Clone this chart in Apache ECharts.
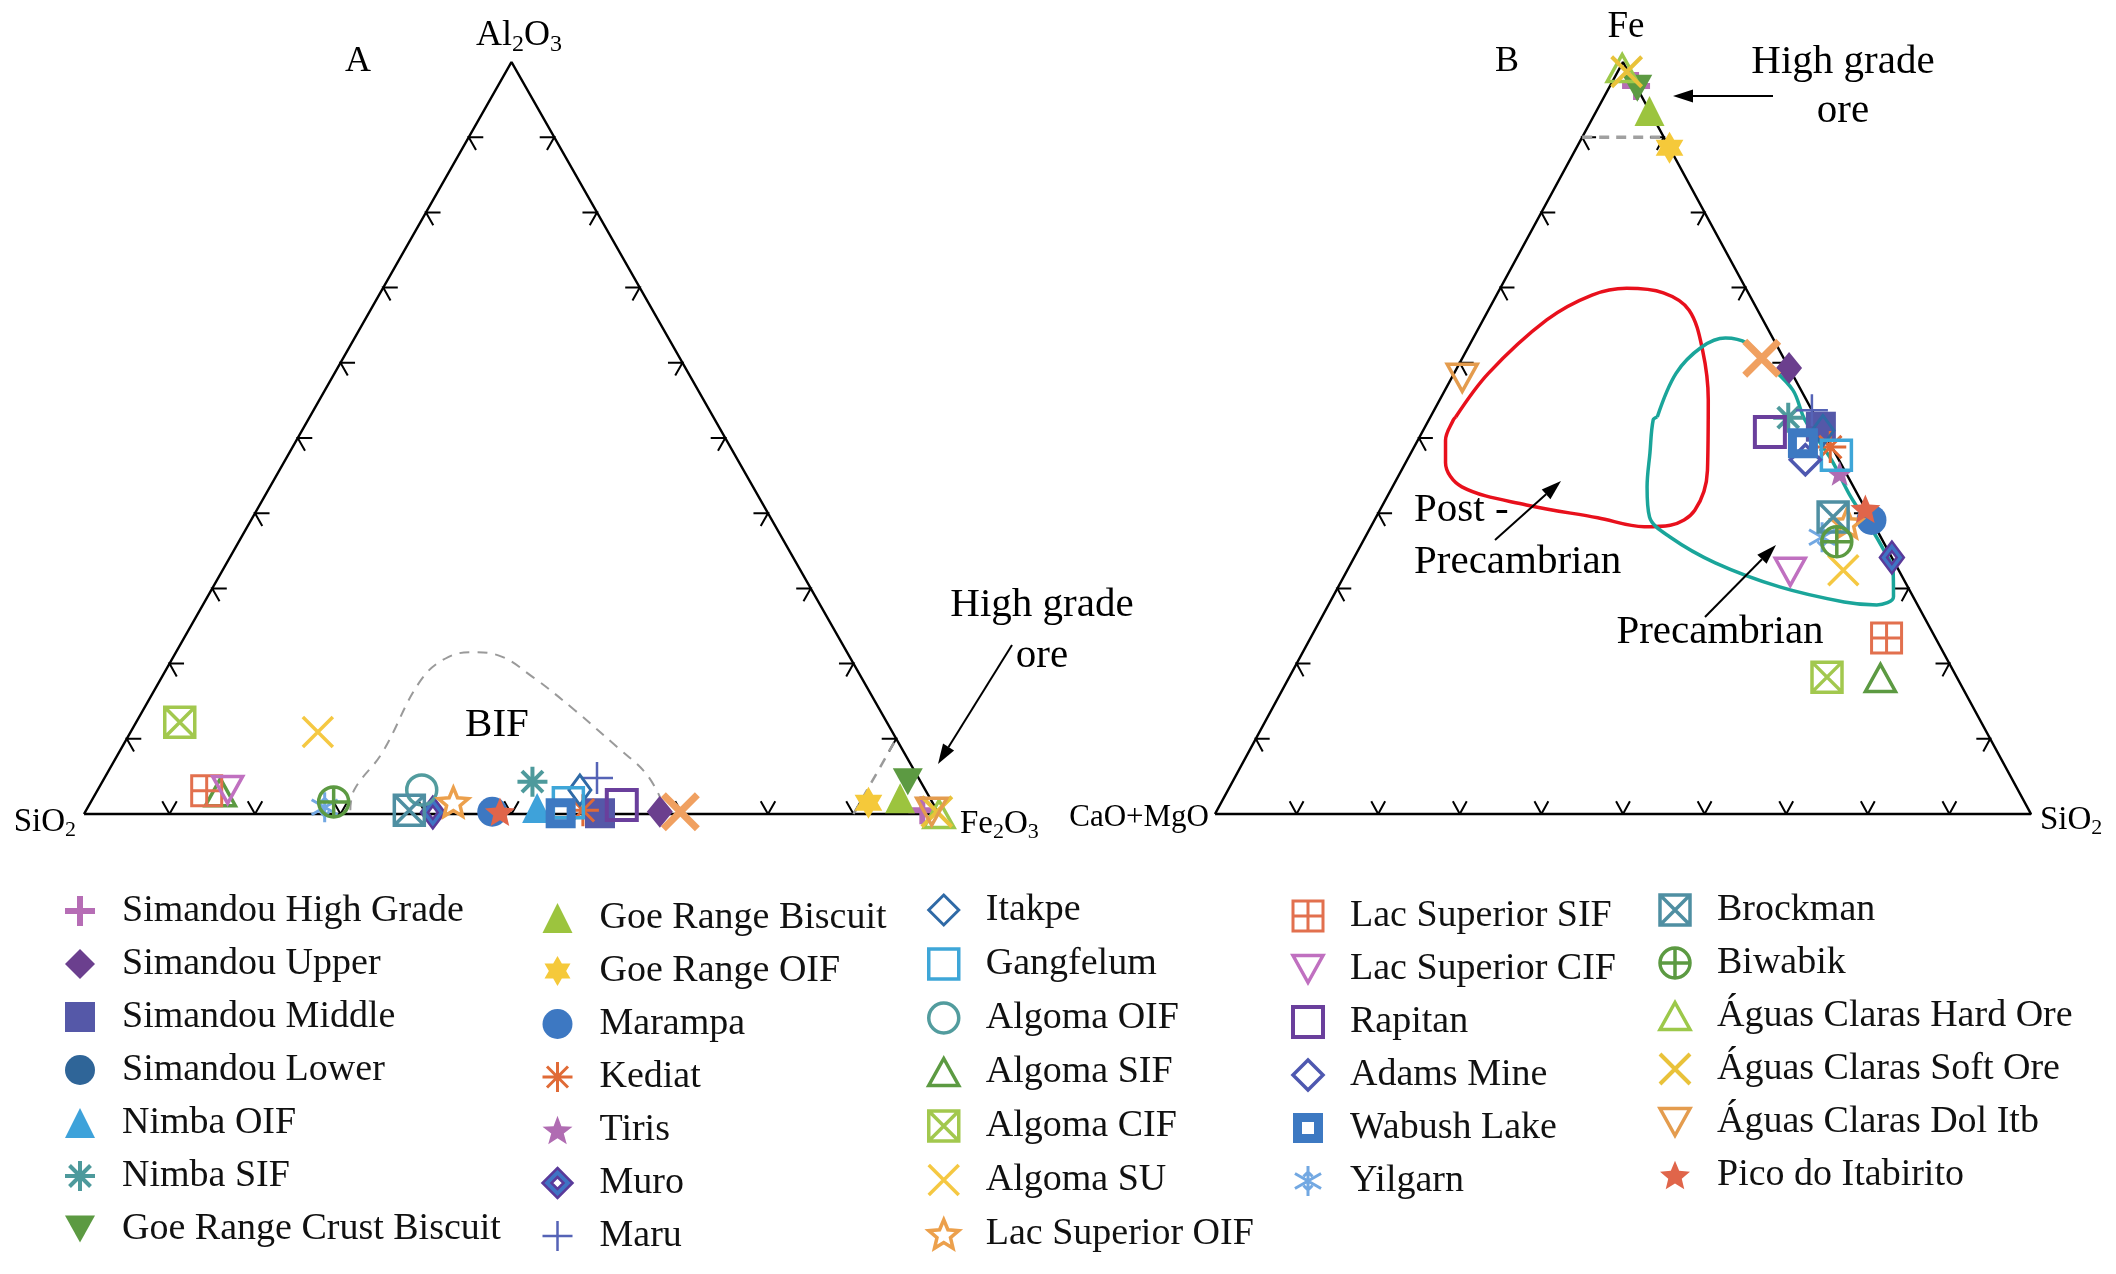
<!DOCTYPE html>
<html>
<head>
<meta charset="utf-8">
<title>Ternary plots</title>
<script src="https://cdn.jsdelivr.net/npm/echarts@6/dist/echarts.min.js"></script>
<style>
html, body { margin: 0; padding: 0; background: #fff; }
#chart { width: 2116px; height: 1274px; }
</style>
</head>
<body>
<div id="chart"></div>
<script>
// legend columns (sample names)
const legendCols = [
  ['Simandou High Grade', 'Simandou Upper', 'Simandou Middle', 'Simandou Lower', 'Nimba OIF', 'Nimba SIF', 'Goe Range Crust Biscuit'],
  ['Goe Range Biscuit', 'Goe Range OIF', 'Marampa', 'Kediat', 'Tiris', 'Muro', 'Maru'],
  ['Itakpe', 'Gangfelum', 'Algoma OIF', 'Algoma SIF', 'Algoma CIF', 'Algoma SU', 'Lac Superior OIF'],
  ['Lac Superior SIF', 'Lac Superior CIF', 'Rapitan', 'Adams Mine', 'Wabush Lake', 'Yilgarn'],
  ['Brockman', 'Biwabik', 'Águas Claras Hard Ore', 'Águas Claras Soft Ore', 'Águas Claras Dol Itb', 'Pico do Itabirito']
]
const OTHER = 'unlisted'

// panel A: [sample, SiO2, Al2O3, Fe2O3] in %
const pointsA = [
  ['Algoma CIF', 82.7, 12.2, 5.1],
  ['Algoma SU', 67.2, 10.9, 21.9],
  ['Lac Superior SIF', 84.1, 3.1, 12.8],
  ['Algoma SIF', 82.6, 2.9, 14.5],
  ['Lac Superior CIF', 81.6, 3.2, 15.2],
  ['Yilgarn', 71.4, 0.9, 27.7],
  ['Biwabik', 70.0, 1.6, 28.4],
  ['Algoma OIF', 58.9, 3.2, 37.9],
  ['Brockman', 61.7, 0.5, 37.8],
  ['Muro', 59.1, 0.2, 40.7],
  ['Lac Superior OIF', 56.0, 1.6, 42.4],
  ['Marampa', 52.1, 0.3, 47.6],
  ['Pico do Itabirito', 51.2, 0.3, 48.5],
  ['Nimba SIF', 45.4, 4.3, 50.3],
  ['Nimba OIF', 46.6, 0.8, 52.6],
  ['Wabush Lake', 44.2, 0.1, 55.7],
  ['Gangfelum', 42.6, 1.5, 55.9],
  ['Itakpe', 40.4, 3.2, 56.4],
  ['Maru', 37.6, 4.8, 57.6],
  ['Kediat', 41.4, 0.5, 58.1],
  ['Simandou Middle', 39.6, 0.1, 60.3],
  ['Rapitan', 36.5, 1.2, 62.3],
  ['Simandou Upper', 32.5, 0.3, 67.2],
  [OTHER, 30.1, 0.3, 69.6],
  ['Goe Range OIF', 7.5, 1.5, 91.0],
  ['Goe Range Biscuit', 3.5, 2.1, 94.4],
  ['Goe Range Crust Biscuit', 1.5, 4.3, 94.2],
  ['Simandou High Grade', 1.7, 0.5, 97.8],
  ['Águas Claras Dol Itb', 0.7, 0.3, 99.0],
  ['Águas Claras Soft Ore', 0.1, 0.3, 99.6],
  ['Águas Claras Hard Ore', 0.0, 0.0, 100.0]
]

// panel B: [sample, CaO+MgO, Fe, SiO2] in %
const pointsB = [
  ['Águas Claras Hard Ore', 0.5, 99.2, 0.3],
  ['Águas Claras Soft Ore', 0.2, 98.7, 1.1],
  ['Simandou High Grade', 0.0, 96.8, 3.2],
  ['Goe Range Crust Biscuit', 0.0, 96.5, 3.5],
  ['Goe Range Biscuit', 0.0, 93.5, 6.5],
  ['Goe Range OIF', 0.0, 88.6, 11.4],
  ['Águas Claras Dol Itb', 40.7, 58.0, 1.3],
  [OTHER, 2.7, 60.6, 36.7],
  ['Simandou Upper', 0.0, 59.3, 40.7],
  ['Rapitan', 6.6, 50.8, 42.6],
  ['Nimba SIF', 3.4, 52.7, 43.9],
  ['Maru', 0.0, 53.7, 46.3],
  ['Simandou Middle', 0.0, 51.5, 48.5],
  ['Wabush Lake', 3.3, 49.3, 47.4],
  ['Adams Mine', 4.1, 47.1, 48.8],
  ['Itakpe', 0.0, 51.0, 49.0],
  ['Kediat', 0.2, 48.8, 51.0],
  ['Gangfelum', 0.0, 47.7, 52.3],
  ['Tiris', 0.8, 45.3, 53.9],
  ['Brockman', 4.5, 39.5, 56.0],
  ['Lac Superior OIF', 3.2, 38.7, 58.1],
  ['Yilgarn', 7.2, 36.8, 56.0],
  ['Biwabik', 5.7, 36.2, 58.1],
  ['Pico do Itabirito', 0.0, 40.6, 59.4],
  ['Marampa', 0.0, 39.1, 60.9],
  ['Muro', 0.0, 34.1, 65.9],
  ['Lac Superior CIF', 13.4, 32.2, 54.4],
  ['Algoma SU', 6.8, 32.4, 60.8],
  ['Lac Superior SIF', 6.0, 23.4, 70.6],
  ['Algoma CIF', 15.9, 18.2, 65.9],
  ['Algoma SIF', 9.4, 18.1, 72.5]
]

// BIF field outline, panel A: [SiO2, Al2O3, Fe2O3]
const bifField = [
  [68.6, 0.5, 30.9], [66.8, 3.2, 30.0], [61.1, 8.1, 30.8], [51.7, 17.8, 30.5],
  [46.9, 20.9, 32.2], [43.6, 21.5, 34.9], [41.0, 21.1, 37.9], [38.4, 18.2, 43.4],
  [35.7, 13.8, 50.5], [33.2, 8.9, 57.9], [31.6, 5.5, 62.9], [31.5, 2.3, 66.2]
]
// high grade ore limit (Fe2O3 = 90 / Fe = 90)
const oreLimitA = [[10, 0, 90], [0, 10, 90]]
const oreLimitB = [[10, 90, 0], [0, 90, 10]]

// fields, panel B: [CaO+MgO, Fe, SiO2]
const postPrecambrianField = [
  [44.1, 52.8, 3.1], [37.2, 58.6, 4.2], [26.5, 65.7, 7.8], [19.3, 69.0, 11.7],
  [14.6, 69.9, 15.5], [10.4, 69.3, 20.3], [8.4, 67.0, 24.6], [9.4, 61.7, 28.9],
  [12.0, 55.1, 32.9], [16.8, 45.7, 37.5], [21.0, 40.4, 38.6], [25.0, 38.4, 36.6],
  [28.3, 38.2, 33.5], [33.4, 39.4, 27.2], [41.3, 41.1, 17.6], [48.0, 43.5, 8.5],
  [48.4, 46.7, 4.9], [46.9, 49.7, 3.4], [44.6, 52.4, 3.0], [44.1, 52.8, 3.1]
]
const precambrianField = [
  [19.4, 52.8, 27.8], [14.2, 58.6, 27.2], [9.3, 62.1, 28.6], [5.8, 63.3, 30.9],
  [3.5, 62.6, 33.9], [2.4, 60.0, 37.6], [1.0, 56.4, 42.6], [1.5, 52.4, 46.1],
  [0.9, 47.1, 52.0], [1.0, 42.2, 56.8], [0.6, 38.2, 61.2], [0.5, 35.1, 64.4],
  [0.7, 32.4, 66.9], [2.4, 28.9, 68.7], [5.0, 27.8, 67.2], [8.8, 28.2, 63.0],
  [15.7, 30.2, 54.1], [22.0, 33.4, 44.6], [25.8, 36.8, 37.4], [27.0, 39.5, 33.5],
  [25.3, 43.5, 31.2], [22.7, 48.0, 29.3], [20.1, 52.4, 27.5], [19.4, 52.8, 27.8]
]

const tickValues = [10, 20, 30, 40, 50, 60, 70, 80, 90]
const tickLen = 1.7

// ternary -> cartesian (x along base, y = top component)
const toA = ([si, al, fe]) => [fe + al / 2, al]
const toB = ([ca, fe, si]) => [si + fe / 2, fe]

const FONT = '"Liberation Serif", "Times New Roman", serif'

function starPath (ratio) {
  let d = ''
  for (let k = 0; k < 10; k++) {
    const r = k % 2 ? 10 * ratio : 10
    const a = -Math.PI / 2 + k * Math.PI / 5
    d += (k ? 'L' : 'M') + (10 + r * Math.cos(a)).toFixed(2) + ',' + (10 + r * Math.sin(a)).toFixed(2)
  }
  return 'path://' + d + 'Z'
}
const SYM = {
  plus: 'path://M10,0V20M0,10H20',
  cross: 'path://M0,0L20,20M20,0L0,20',
  aster8: 'path://M10,0V20M0,10H20M3,3L17,17M17,3L3,17',
  aster6: 'path://M10,0V20M1.3,5L18.7,15M18.7,5L1.3,15M10,4L13,7M10,4L7,7M10,16L13,13M10,16L7,13',
  box: 'path://M0,0H20V20H0Z',
  boxX: 'path://M0,0H20V20H0ZM0,0L20,20M20,0L0,20',
  boxGrid: 'path://M0,0H20V20H0ZM10,0V20M0,10H20',
  diamond: 'path://M10,0L20,10L10,20L0,10Z',
  triUp: 'path://M10,0L20,18H0Z',
  triDown: 'path://M0,0H20L10,18Z',
  circle: 'path://M0,10A10,10,0,1,1,20,10A10,10,0,1,1,0,10Z',
  circlePlus: 'path://M0,10A10,10,0,1,1,20,10A10,10,0,1,1,0,10ZM10,0V20M0,10H20',
  star6: 'path://M10,0L18.66,15L1.34,15ZM10,20L1.34,5L18.66,5Z',
  muro: 'path://M10,0L20,10L10,20L0,10ZM10,6L6,10L10,14L14,10Z',
  wabush: 'path://M0,0H20V20H0ZM6,6V14H14V6Z'
}

// marker styles: fill / stroke / stroke width / size
const markerStyles = {
  'Simandou High Grade': { symbol: SYM.plus, stroke: '#b66db5', lw: 6, size: 28 },
  'Simandou Upper': { symbol: 'diamond', fill: '#6b3f8e', size: [26, 32] },
  'Simandou Middle': { symbol: 'rect', fill: '#5558a8', size: 30 },
  'Simandou Lower': { symbol: 'circle', fill: '#2f6598', size: 30 },
  'Nimba OIF': { symbol: 'triangle', fill: '#3ea2da', size: 30 },
  'Nimba SIF': { symbol: SYM.aster8, stroke: '#4e9a9c', lw: 4, size: 30 },
  'Goe Range Crust Biscuit': { symbol: SYM.triDown, fill: '#5c9a42', size: 30 },
  'Goe Range Biscuit': { symbol: 'triangle', fill: '#9cc43e', size: 30 },
  'Goe Range OIF': { symbol: SYM.star6, fill: '#f5c93a', size: 32 },
  'Marampa': { symbol: 'circle', fill: '#3d78c2', size: 30 },
  'Kediat': { symbol: SYM.aster8, stroke: '#e06a36', lw: 3, size: 32 },
  'Tiris': { symbol: starPath(0.42), fill: '#b06cb2', size: 26 },
  'Muro': { symbol: SYM.muro, fill: '#3f74c4', stroke: '#5a3a9a', lw: 2.5, size: [24, 32] },
  'Maru': { symbol: SYM.plus, stroke: '#5563b6', lw: 2.5, size: 32 },
  'Itakpe': { symbol: SYM.diamond, stroke: '#2f6aa6', lw: 3, size: [22, 30] },
  'Gangfelum': { symbol: SYM.box, stroke: '#3ea6d8', lw: 3.5, size: 30 },
  'Algoma OIF': { symbol: SYM.circle, stroke: '#529c9e', lw: 3.5, size: 30 },
  'Algoma SIF': { symbol: SYM.triUp, stroke: '#5c9a42', lw: 3.5, size: 30 },
  'Algoma CIF': { symbol: SYM.boxX, stroke: '#a2c84e', lw: 3.5, size: 30 },
  'Algoma SU': { symbol: SYM.cross, stroke: '#f5c842', lw: 3.5, size: 30 },
  'Lac Superior OIF': { symbol: starPath(0.45), stroke: '#eca04c', lw: 3.5, size: 30 },
  'Lac Superior SIF': { symbol: SYM.boxGrid, stroke: '#e2704e', lw: 3, size: 30 },
  'Lac Superior CIF': { symbol: SYM.triDown, stroke: '#c070c0', lw: 3.5, size: 30 },
  'Rapitan': { symbol: SYM.box, stroke: '#6a3f9c', lw: 4, size: 30 },
  'Adams Mine': { symbol: SYM.diamond, stroke: '#4e58b0', lw: 3.5, size: 30 },
  'Wabush Lake': { symbol: SYM.wabush, fill: '#3d79c2', size: 30 },
  'Yilgarn': { symbol: SYM.aster6, stroke: '#72a8e2', lw: 3, size: 30 },
  'Brockman': { symbol: SYM.boxX, stroke: '#4f8fa2', lw: 3.5, size: 30 },
  'Biwabik': { symbol: SYM.circlePlus, stroke: '#5c9a42', lw: 3.5, size: 30 },
  'Águas Claras Hard Ore': { symbol: SYM.triUp, stroke: '#9cc84a', lw: 3.5, size: 30 },
  'Águas Claras Soft Ore': { symbol: SYM.cross, stroke: '#e9c23a', lw: 4, size: 30 },
  'Águas Claras Dol Itb': { symbol: SYM.triDown, stroke: '#e49c4e', lw: 3.5, size: 30 },
  'Pico do Itabirito': { symbol: starPath(0.45), fill: '#e0654a', size: 30 },
  [OTHER]: { symbol: SYM.cross, stroke: '#f0a060', lw: 7, size: 34 }
}

function itemStyleOf (st) {
  return {
    color: st.fill || 'rgba(0,0,0,0)',
    borderColor: st.stroke || 'rgba(0,0,0,0)',
    borderWidth: st.stroke ? st.lw : 0
  }
}

const series = []

// triangle frames and chevron ticks
function frameSeries (idx, conv) {
  const corners = [[100, 0, 0], [0, 100, 0], [0, 0, 100]]
  series.push({
    type: 'line', xAxisIndex: idx, yAxisIndex: idx, silent: true, clip: false,
    symbol: 'none', z: 2, animation: false,
    lineStyle: { color: '#000', width: 2.5 },
    data: [corners[0], corners[2], corners[1], corners[0]].map(conv)
  })
  const ticks = []
  for (let zero = 0; zero < 3; zero++) {
    const others = [0, 1, 2].filter(i => i !== zero)
    tickValues.forEach(t => {
      const v = [0, 0, 0]
      v[others[0]] = t
      v[others[1]] = 100 - t
      const arms = others.map(j => {
        const p = v.slice()
        p[zero] += tickLen
        p[j] -= tickLen
        return p
      })
      ticks.push({ coords: [arms[0], v, arms[1]].map(conv) })
    })
  }
  series.push({
    type: 'lines', coordinateSystem: 'cartesian2d', xAxisIndex: idx, yAxisIndex: idx,
    polyline: true, silent: true, z: 2, animation: false,
    lineStyle: { color: '#000', width: 2, opacity: 1 },
    data: ticks
  })
}
frameSeries(0, toA)
frameSeries(1, toB)

function curve (idx, data, style, smooth) {
  series.push({
    type: 'line', xAxisIndex: idx, yAxisIndex: idx, silent: true, clip: false,
    symbol: 'none', z: 3, smooth: smooth, animation: false,
    lineStyle: style, data: data
  })
}
curve(0, bifField.map(toA), { color: '#9a9a9a', width: 2, type: [10, 8] }, 0.4)
curve(0, oreLimitA.map(toA), { color: '#9a9a9a', width: 2.5, type: [10, 8] }, false)
curve(1, oreLimitB.map(toB), { color: '#a0a0a0', width: 3.5, type: [10, 7] }, false)
curve(1, postPrecambrianField.map(toB), { color: '#e8101c', width: 3.5 }, 0.35)
curve(1, precambrianField.map(toB), { color: '#1aa59a', width: 3.5 }, 0.35)

// samples
const allNames = legendCols.flat().concat([OTHER])
allNames.forEach(name => {
  const st = markerStyles[name]
  const base = {
    type: 'scatter', name: name, symbol: st.symbol, symbolSize: st.size,
    symbolKeepAspect: true, clip: false, silent: true, z: 5, animation: false,
    itemStyle: Object.assign(itemStyleOf(st), { opacity: 1 }),
    emphasis: { disabled: true }
  }
  series.push(Object.assign({}, base, {
    xAxisIndex: 0, yAxisIndex: 0,
    data: pointsA.filter(p => p[0] === name).map(p => toA(p.slice(1)))
  }))
  series.push(Object.assign({}, base, {
    xAxisIndex: 1, yAxisIndex: 1,
    data: pointsB.filter(p => p[0] === name).map(p => toB(p.slice(1)))
  }))
})

// legends, one per column
const colLeft = [62, 541, 927, 1291, 1658]
const colTop = [891, 898, 890, 896, 890]
const colGap = [13, 13, 14, 13, 13]
const legends = legendCols.map((names, i) => ({
  orient: 'vertical', left: colLeft[i], top: colTop[i], padding: 0,
  itemWidth: 30, itemHeight: 30, itemGap: colGap[i], selectedMode: false,
  textStyle: { fontFamily: FONT, fontSize: 38, color: '#111', lineHeight: 40, padding: [0, 0, 0, 22] },
  data: names.map(n => {
    const st = markerStyles[n]
    return {
      name: n,
      icon: st.symbol.indexOf('path://') === 0 ? st.symbol : (st.symbol === 'rect' ? 'rect' : st.symbol),
      itemStyle: itemStyleOf(st)
    }
  })
}))

// annotations
function text (str, x, y, size, align, extra) {
  return {
    type: 'text', x: x, y: y, silent: true, z: 10,
    style: Object.assign({
      text: str, fontSize: size, fontFamily: FONT, fill: '#000',
      align: align || 'center', verticalAlign: 'middle'
    }, extra || {})
  }
}
function arrow (x1, y1, x2, y2) {
  const a = Math.atan2(y2 - y1, x2 - x1)
  const L = 20
  const W = 6.5
  const bx = x2 - L * Math.cos(a)
  const by = y2 - L * Math.sin(a)
  return [
    { type: 'line', silent: true, z: 10, shape: { x1: x1, y1: y1, x2: bx, y2: by }, style: { stroke: '#000', lineWidth: 2 } },
    {
      type: 'polygon', silent: true, z: 10,
      shape: { points: [[x2, y2], [bx - W * Math.sin(a), by + W * Math.cos(a)], [bx + W * Math.sin(a), by - W * Math.cos(a)]] },
      style: { fill: '#000' }
    }
  ]
}
const subRich = (size) => ({ s: { fontSize: Math.round(size * 0.68), fontFamily: FONT, padding: [Math.round(size * 0.5), 0, 0, 0] } })

const graphics = [
  text('A', 358, 62, 36),
  text('B', 1507, 62, 36),
  text('Al{s|2}O{s|3}', 519, 36, 36, 'center', { rich: subRich(36) }),
  text('Fe', 1626, 27, 37),
  text('SiO{s|2}', 76, 822, 33, 'right', { rich: subRich(33) }),
  text('Fe{s|2}O{s|3}', 960, 824, 33, 'left', { rich: subRich(33) }),
  text('CaO+MgO', 1209, 818, 31, 'right'),
  text('SiO{s|2}', 2040, 820, 33, 'left', { rich: subRich(33) }),
  text('BIF', 497, 725, 41),
  text('High grade\nore', 1042, 631, 41, 'center', { lineHeight: 51 }),
  text('High grade\nore', 1843, 87, 41, 'center', { lineHeight: 49 }),
  text('Post -\nPrecambrian', 1414, 536, 41, 'left', { lineHeight: 52 }),
  text('Precambrian', 1720, 632, 41)
].concat(
  arrow(1012, 645, 938, 764),
  arrow(1773, 96, 1673, 96),
  arrow(1495, 540, 1561, 481),
  arrow(1705, 617, 1776, 545)
)

const chart = echarts.init(document.getElementById('chart'), null, { renderer: 'canvas' })
chart.setOption({
  backgroundColor: '#fff',
  animation: false,
  grid: [
    { left: 84, top: 62, width: 855, height: 752 },
    { left: 1215, top: 62, width: 816, height: 752 }
  ],
  xAxis: [
    { gridIndex: 0, type: 'value', min: 0, max: 100, show: false },
    { gridIndex: 1, type: 'value', min: 0, max: 100, show: false }
  ],
  yAxis: [
    { gridIndex: 0, type: 'value', min: 0, max: 100, show: false },
    { gridIndex: 1, type: 'value', min: 0, max: 100, show: false }
  ],
  legend: legends,
  graphic: { elements: graphics },
  series: series
})
</script>
</body>
</html>
